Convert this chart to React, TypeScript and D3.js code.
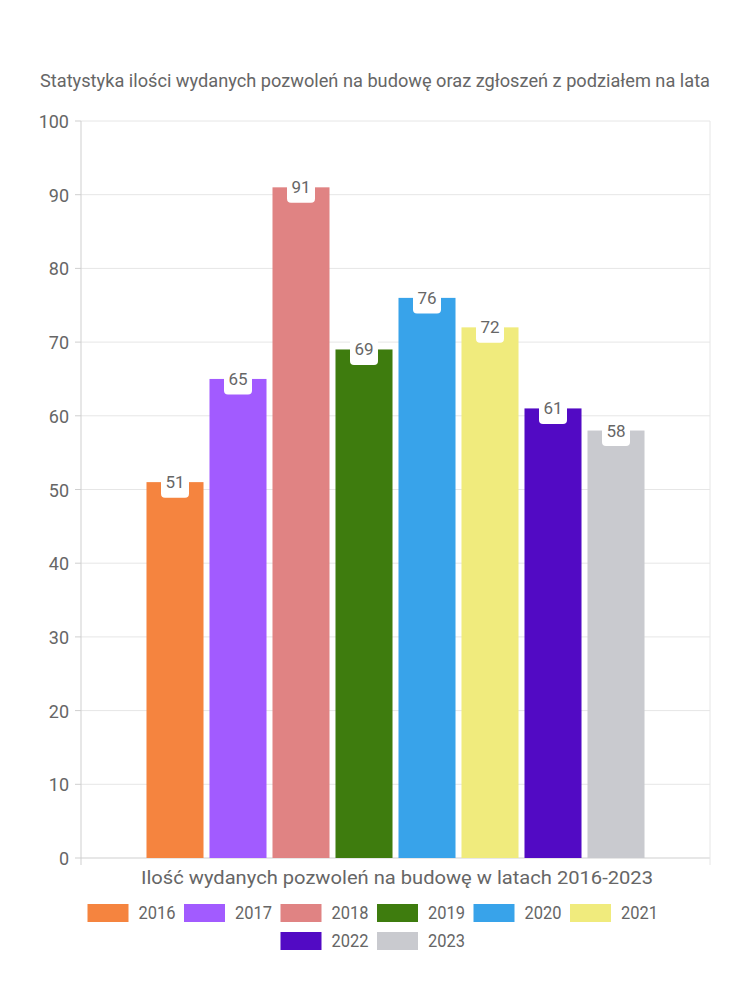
import React from "react";
import * as d3 from "d3";

const years = ["2016", "2017", "2018", "2019", "2020", "2021", "2022", "2023"];
const values = [51, 65, 91, 69, 76, 72, 61, 58];
const colors = ["#f5843f", "#a25bff", "#e08383", "#3e7c0e", "#38a3ea", "#f0eb7d", "#520ac4", "#c9cacf"];
const yTicks = [0, 10, 20, 30, 40, 50, 60, 70, 80, 90, 100];
const title = "Statystyka ilości wydanych pozwoleń na budowę oraz zgłoszeń z podziałem na lata";
const xTitle = "Ilość wydanych pozwoleń na budowę w latach 2016-2023";

const W = 750;
const H = 1000;
const FONT = "Roboto, 'Noto Sans', sans-serif";
const TEXT = "#666666";

export default function App() {
  const left = 81, right = 710, top = 121, bottom = 858;
  const y = d3.scaleLinear().domain([0, 100]).range([bottom, top]);
  const cx = (left + right) / 2;
  const groupW = 504;
  const x = d3
    .scaleBand<string>()
    .domain(years)
    .range([cx - groupW / 2, cx + groupW / 2])
    .paddingInner(0.095)
    .paddingOuter(0.0475);

  const legendStep = 96.5;
  const legendRows = [
    { items: years.slice(0, 6), y: 904 },
    { items: years.slice(6), y: 932 },
  ];

  return (
    <svg width={W} height={H} style={{ display: "block", position: "absolute", left: 0, top: 0 }} fontFamily={FONT}>
      <rect width={W} height={H} fill="#fff" />
      <text x={40} y={87} fontSize={18} fill={TEXT} textLength={670} lengthAdjust="spacingAndGlyphs">
        {title}
      </text>
      {yTicks.map((t) => (
        <g key={t}>
          <line x1={left} x2={right} y1={y(t)} y2={y(t)} stroke={t === 0 ? "#cfcfcf" : "#e6e6e6"} strokeWidth={1} />
          <line x1={left - 6} x2={left} y1={y(t)} y2={y(t)} stroke="#cfcfcf" />
          <text x={69} y={y(t) + 7} textAnchor="end" fontSize={18} fill={TEXT}>
            {t}
          </text>
        </g>
      ))}
      <line x1={left} x2={left} y1={top} y2={bottom + 7} stroke="#cfcfcf" />
      <line x1={right} x2={right} y1={top} y2={bottom + 7} stroke="#e6e6e6" />
      {years.map((yr, i) => {
        const bx = x(yr)!;
        const bw = x.bandwidth();
        const by = y(values[i]);
        const mx = bx + bw / 2;
        return (
          <g key={yr}>
            <rect x={bx} y={by} width={bw} height={bottom - by} fill={colors[i]} />
            <rect x={mx - 14} y={by - 12} width={28} height={27.5} rx={4} fill="#fff" />
            <text x={mx} y={by + 6} textAnchor="middle" fontSize={17} fill={TEXT}>
              {values[i]}
            </text>
          </g>
        );
      })}
      <text x={141} y={884} fontSize={18} fill={TEXT} textLength={512} lengthAdjust="spacingAndGlyphs">
        {xTitle}
      </text>
      {legendRows.map((row) => {
        const n = row.items.length;
        const rowW = n * legendStep - 10;
        const start = W / 2 - rowW / 2 - 3;
        return row.items.map((yr, j) => {
          const i = years.indexOf(yr);
          const lx = start + j * legendStep;
          return (
            <g key={yr}>
              <rect x={lx} y={row.y} width={41} height={18} fill={colors[i]} />
              <text x={lx + 51} y={row.y + 15} fontSize={18} fill={TEXT} textLength={37} lengthAdjust="spacingAndGlyphs">
                {yr}
              </text>
            </g>
          );
        });
      })}
    </svg>
  );
}
